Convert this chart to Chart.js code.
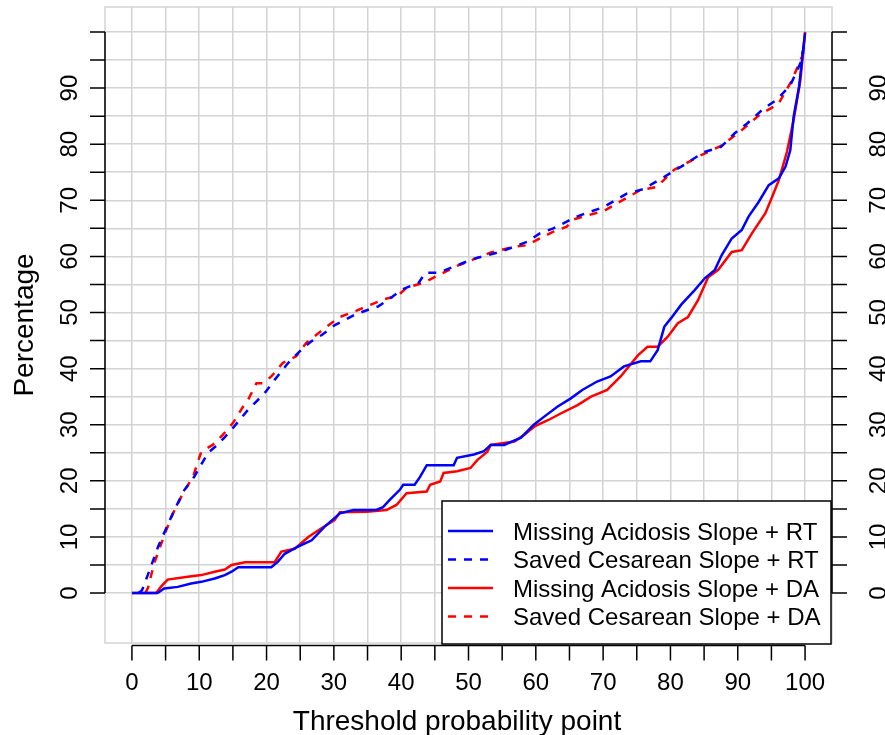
<!DOCTYPE html>
<html>
<head>
<meta charset="utf-8">
<script src="https://cdn.jsdelivr.net/npm/chart.js@4/dist/chart.umd.min.js"></script>
<style>
  html, body { margin: 0; padding: 0; background: #ffffff; }
  #wrap { width: 885px; height: 735px; }
</style>
</head>
<body>
<div id="wrap"><canvas id="c" width="885" height="735"></canvas></div>
<script>
// ---------- data ----------
const xTicks = [0, 10, 20, 30, 40, 50, 60, 70, 80, 90, 100];
const yTicks = [0, 10, 20, 30, 40, 50, 60, 70, 80, 90];
const seriesLabels = [
  'Missing Acidosis Slope + RT',
  'Saved Cesarean Slope + RT',
  'Missing Acidosis Slope + DA',
  'Saved Cesarean Slope + DA'
];

const missRT_x = [0, 3.8, 4.8, 6.8, 8.8, 10.3, 12.3, 13.8, 14.8, 15.8, 20.7, 21.7, 22.7, 24.7, 26.7, 28.6, 30.9, 32.9, 36.3, 37.3, 38.3, 39.8, 40.3, 42.0, 42.8, 43.8, 47.8, 48.3, 50.8, 52.3, 53.3, 55.3, 57.8, 59.7, 61.2, 63.2, 65.2, 66.9, 69.1, 71.1, 73.1, 75.6, 77.0, 78.1, 79.1, 80.1, 81.6, 83.6, 85.1, 86.6, 87.6, 89.1, 90.6, 91.6, 93.1, 94.6, 96.1, 97.1, 97.8, 98.3, 99.1, 99.6, 100];
const missRT_y = [0, 0, 0.8, 1.1, 1.7, 2.0, 2.6, 3.2, 3.8, 4.6, 4.6, 5.6, 7.0, 8.3, 9.4, 11.8, 14.2, 14.8, 14.8, 15.3, 16.6, 18.4, 19.3, 19.3, 20.7, 22.8, 22.8, 24.1, 24.7, 25.3, 26.4, 26.4, 27.7, 30.0, 31.4, 33.2, 34.7, 36.2, 37.7, 38.6, 40.4, 41.3, 41.3, 43.3, 47.5, 49.0, 51.4, 54.0, 56.1, 57.6, 60.2, 63.2, 64.7, 67.1, 69.7, 72.7, 73.9, 76.0, 78.9, 84.9, 90.2, 95.5, 99.8];

const savedRT_x = [1.0, 1.5, 2.6, 3.9, 5.0, 6.3, 7.8, 9.3, 11.3, 12.5, 13.8, 15.2, 17.2, 19.7, 21.2, 23.2, 25.2, 26.7, 28.2, 30.2, 31.7, 33.1, 35.1, 36.6, 38.1, 40.1, 42.6, 43.6, 45.6, 48.1, 50.6, 52.7, 54.7, 56.7, 58.7, 60.6, 62.6, 64.6, 65.6, 70.1, 73.5, 76.0, 79.1, 81.6, 85.0, 87.5, 89.5, 91.4, 93.9, 95.8, 97.8, 99.3, 100];
const savedRT_y = [0, 0.5, 4.0, 8.3, 11.3, 14.8, 18.4, 20.8, 25.0, 26.2, 27.8, 29.7, 32.6, 35.6, 38.0, 41.0, 43.4, 44.9, 46.0, 47.8, 48.7, 49.6, 50.5, 51.1, 52.3, 54.1, 55.3, 57.1, 57.1, 58.3, 59.5, 60.2, 60.8, 61.7, 62.6, 64.1, 65.0, 66.2, 66.9, 68.8, 71.2, 72.0, 74.2, 76.0, 78.6, 79.5, 81.9, 83.7, 86.4, 87.9, 90.5, 94.4, 98.5];

const missDA_x = [0, 3.6, 4.3, 5.3, 8.3, 10.3, 12.3, 13.8, 14.8, 16.8, 21.2, 22.2, 24.2, 26.2, 28.1, 30.1, 30.9, 34.9, 37.8, 39.3, 40.8, 43.8, 44.3, 45.8, 46.3, 48.3, 50.3, 51.3, 52.8, 53.3, 56.8, 58.3, 59.8, 61.8, 63.7, 66.2, 68.2, 70.6, 72.6, 75.2, 76.6, 78.1, 79.6, 81.1, 82.6, 84.1, 85.6, 87.1, 89.1, 90.6, 92.1, 94.1, 95.1, 96.1, 97.3, 98.3, 99.3, 100];
const missDA_y = [0, 0, 1.1, 2.4, 2.9, 3.2, 3.8, 4.2, 5.0, 5.5, 5.5, 7.4, 7.9, 10.0, 11.5, 13.0, 14.4, 14.5, 14.8, 15.7, 17.8, 18.1, 19.3, 19.9, 21.4, 21.7, 22.3, 23.7, 25.2, 26.4, 27.0, 28.2, 29.7, 30.8, 32.0, 33.5, 35.0, 36.2, 38.6, 42.4, 43.9, 43.9, 45.7, 48.1, 49.2, 52.2, 56.3, 57.6, 60.8, 61.1, 64.1, 67.7, 70.6, 73.6, 78.6, 84.3, 91.4, 100];

const savedDA_x = [2.0, 2.4, 3.3, 4.9, 6.1, 7.6, 9.1, 10.3, 12.0, 13.5, 15.0, 16.5, 17.2, 18.5, 19.5, 20.7, 22.4, 24.4, 25.9, 28.4, 30.9, 33.3, 35.3, 37.3, 39.5, 40.8, 43.3, 46.3, 48.3, 50.8, 53.3, 56.7, 58.7, 60.6, 62.6, 64.6, 65.6, 70.1, 75.5, 78.0, 80.5, 84.5, 87.5, 90.5, 93.4, 96.0, 98.0, 99.5, 100];
const savedDA_y = [0, 1.0, 5.3, 10.6, 14.2, 17.8, 20.8, 25.2, 26.4, 28.2, 30.3, 33.2, 34.3, 37.4, 37.4, 38.6, 41.0, 42.2, 44.6, 47.0, 49.2, 50.3, 51.3, 52.3, 53.0, 54.4, 55.3, 57.1, 58.3, 59.5, 60.7, 61.7, 62.0, 63.2, 64.4, 65.3, 66.6, 68.1, 71.8, 72.4, 75.4, 78.0, 79.7, 82.4, 85.4, 87.1, 91.3, 95.5, 97.2];

// ---------- styling ----------
const BLUE = '#0000FF', RED = '#FF0000', GRID = '#D3D3D3';
const FONT = '"Liberation Sans", Arial, Helvetica, sans-serif';

function pts(xs, ys) { return xs.map((v, i) => ({ x: v, y: ys[i] })); }

const gridTicks = [];
for (let v = 0; v <= 100; v += 5) gridTicks.push(v);

const decor = {
  id: 'decor',
  beforeDatasetsDraw(chart) {
    const { ctx, chartArea: ca } = chart;
    ctx.save();
    ctx.strokeStyle = GRID;
    ctx.lineWidth = 1.5;
    ctx.strokeRect(ca.left, ca.top, ca.right - ca.left, ca.bottom - ca.top);
    ctx.restore();
  },
  afterDatasetsDraw(chart) {
    const { ctx, chartArea: ca, scales } = chart;
    const xs = scales.x, ys = scales.y;
    ctx.save();
    ctx.strokeStyle = '#000';
    ctx.fillStyle = '#000';
    ctx.lineWidth = 1.5;

    // bottom axis
    const axY = ca.bottom + 2.5;
    const x0 = xs.getPixelForValue(0), x100 = xs.getPixelForValue(100);
    ctx.beginPath();
    ctx.moveTo(x0, axY); ctx.lineTo(x100, axY);
    gridTicks.forEach(v => { const p = xs.getPixelForValue(v); ctx.moveTo(p, axY); ctx.lineTo(p, axY + 15); });
    ctx.stroke();
    ctx.font = '24px ' + FONT;
    ctx.textAlign = 'center';
    ctx.textBaseline = 'alphabetic';
    xTicks.forEach(v => ctx.fillText(String(v), xs.getPixelForValue(v), 690));

    // left and right axes
    const y0 = ys.getPixelForValue(0), y100 = ys.getPixelForValue(100);
    [[ca.left, -15, ca.left - 28], [ca.right, 15, 886]].forEach(([ax, dir, base]) => {
      ctx.beginPath();
      ctx.moveTo(ax, y0); ctx.lineTo(ax, y100);
      gridTicks.forEach(v => { const p = ys.getPixelForValue(v); ctx.moveTo(ax, p); ctx.lineTo(ax + dir, p); });
      ctx.stroke();
      yTicks.forEach(v => {
        ctx.save();
        ctx.translate(base, ys.getPixelForValue(v));
        ctx.rotate(-Math.PI / 2);
        ctx.fillText(String(v), 0, 0);
        ctx.restore();
      });
    });

    // axis titles
    ctx.font = '28px ' + FONT;
    ctx.fillText('Threshold probability point', 457, 730);
    ctx.save();
    ctx.translate(33, (ca.top + ca.bottom) / 2);
    ctx.rotate(-Math.PI / 2);
    ctx.fillText('Percentage', 0, 0);
    ctx.restore();

    // legend
    const lx = 442, ly = 501, lw = 389, lh = 143;
    ctx.fillStyle = '#fff';
    ctx.fillRect(lx, ly, lw, lh);
    ctx.strokeStyle = '#000';
    ctx.lineWidth = 1.5;
    ctx.strokeRect(lx, ly, lw, lh);
    const rows = [531, 559.5, 588, 616.5];
    ctx.font = '24px ' + FONT;
    ctx.textAlign = 'left';
    chart.data.datasets.forEach((ds, i) => {
      const ry = rows[i];
      ctx.strokeStyle = ds.borderColor;
      ctx.lineWidth = ds.borderWidth;
      ctx.setLineDash(ds.borderDash || []);
      ctx.beginPath();
      ctx.moveTo(448, ry); ctx.lineTo(493, ry);
      ctx.stroke();
      ctx.setLineDash([]);
      ctx.fillStyle = '#000';
      ctx.fillText(ds.label, 513, ry + 8.6);
    });
    ctx.restore();
  }
};

const mk = (label, xsArr, ysArr, color, dashed) => ({
  label, data: pts(xsArr, ysArr), borderColor: color, backgroundColor: color,
  borderWidth: 2.5, borderDash: dashed ? [8, 8] : [], pointRadius: 0, tension: 0, fill: false
});

new Chart(document.getElementById('c'), {
  type: 'line',
  data: {
    datasets: [
      mk(seriesLabels[0], missRT_x, missRT_y, BLUE, false),
      mk(seriesLabels[1], savedRT_x, savedRT_y, BLUE, true),
      mk(seriesLabels[2], missDA_x, missDA_y, RED, false),
      mk(seriesLabels[3], savedDA_x, savedDA_y, RED, true)
    ]
  },
  options: {
    responsive: false,
    animation: false,
    devicePixelRatio: 1,
    layout: { padding: { left: 105, right: 53, top: 7, bottom: 92 } },
    plugins: { legend: { display: false }, tooltip: { enabled: false } },
    scales: {
      x: {
        type: 'linear', min: -4, max: 104,
        afterBuildTicks: (s) => { s.ticks = gridTicks.map(v => ({ value: v })); },
        ticks: { display: false },
        grid: { color: GRID, lineWidth: 1.5, drawTicks: false },
        border: { display: false }
      },
      y: {
        type: 'linear', min: -8.9, max: 104.45,
        afterBuildTicks: (s) => { s.ticks = gridTicks.map(v => ({ value: v })); },
        ticks: { display: false },
        grid: { color: GRID, lineWidth: 1.5, drawTicks: false },
        border: { display: false }
      }
    }
  },
  plugins: [decor]
});
</script>
</body>
</html>
